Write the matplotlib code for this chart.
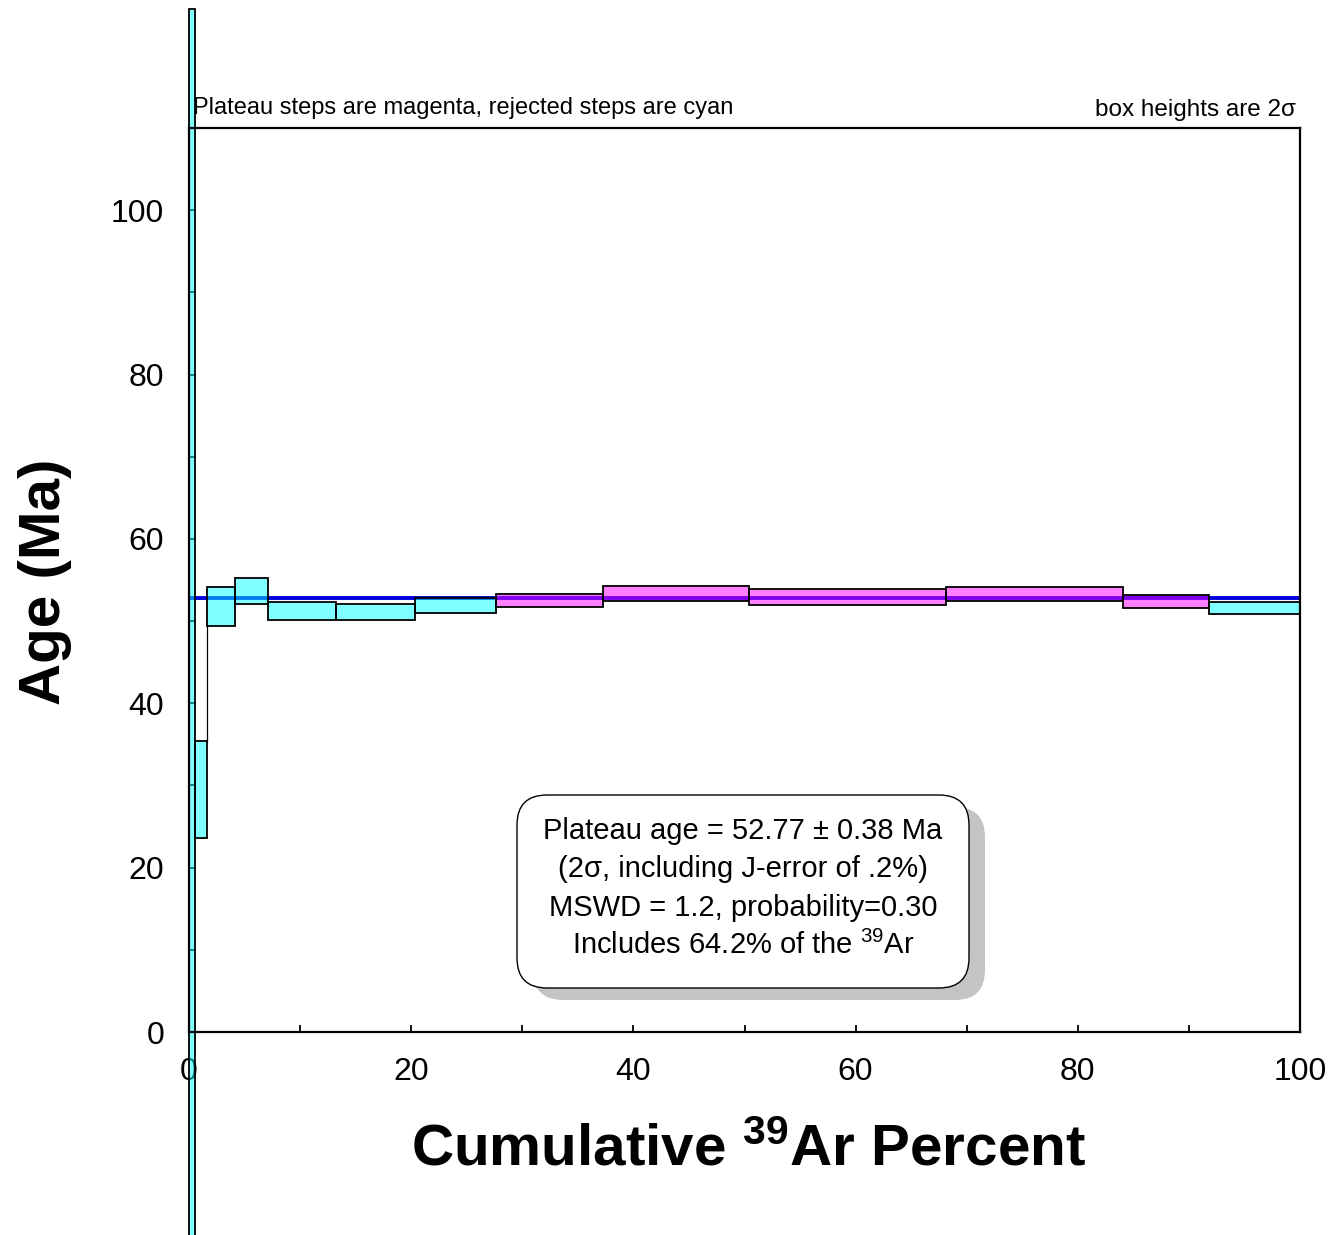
import matplotlib
matplotlib.use('Agg')
import matplotlib.pyplot as plt
from matplotlib.patches import Rectangle, FancyBboxPatch
from matplotlib.ticker import MultipleLocator

plt.rcParams['font.family'] = ['Liberation Sans', 'DejaVu Sans']
plt.rcParams['mathtext.fontset'] = 'custom'
plt.rcParams['mathtext.rm'] = 'Liberation Sans'
plt.rcParams['mathtext.bf'] = 'Liberation Sans:bold'
plt.rcParams['mathtext.it'] = 'Liberation Sans:italic'

# Step boundaries (cumulative 39Ar %), step ages and 2-sigma errors (Ma)
cum_edges = [0, 0.5, 1.65, 4.14, 7.14, 13.23, 20.34, 27.63, 37.24, 50.43, 68.14, 84.10, 91.78, 100]
ages = [47.0, 29.5, 51.8, 53.7, 51.2, 51.1, 51.85, 52.5, 53.4, 52.95, 53.3, 52.4, 51.6]
errs = [77.5, 5.9, 2.4, 1.6, 1.1, 1.0, 0.9, 0.8, 0.9, 0.95, 0.8, 0.8, 0.75]
in_plateau = [False] * 7 + [True] * 5 + [False]

plateau_age = 52.77
plateau_err = 0.38
mswd = 1.2
prob = 0.30
plateau_pct = 64.2

fig = plt.figure(figsize=(13.32, 12.35), dpi=100)
ax = fig.add_axes([189 / 1332, (1235 - 1032) / 1235, 1111 / 1332, 904 / 1235])
ax.set_xlim(0, 100)
ax.set_ylim(0, 110)

# plateau age line sits under the translucent step boxes
ax.plot([0, 100], [plateau_age, plateau_age], color='#0000dd', lw=2.8, zorder=1)

for i, (age, err) in enumerate(zip(ages, errs)):
    x0, x1 = cum_edges[i], cum_edges[i + 1]
    color = 'magenta' if in_plateau[i] else 'cyan'
    ax.add_patch(Rectangle((x0, age - err), x1 - x0, 2 * err, facecolor=color,
                           alpha=0.5, edgecolor='none', zorder=2, clip_on=False))
    ax.add_patch(Rectangle((x0, age - err), x1 - x0, 2 * err, facecolor='none',
                           edgecolor='black', lw=1.3, zorder=3, clip_on=False))
    # thin connector between non-overlapping neighbouring steps
    if i > 0:
        prev_lo = ages[i - 1] - errs[i - 1]
        prev_hi = ages[i - 1] + errs[i - 1]
        lo, hi = age - err, age + err
        if hi < prev_lo:
            ax.plot([x0, x0], [hi, prev_lo], color='black', lw=0.9, zorder=3)
        elif lo > prev_hi:
            ax.plot([x0, x0], [prev_hi, lo], color='black', lw=0.9, zorder=3)

ax.xaxis.set_major_locator(MultipleLocator(20))
ax.xaxis.set_minor_locator(MultipleLocator(10))
ax.yaxis.set_major_locator(MultipleLocator(20))
ax.yaxis.set_minor_locator(MultipleLocator(10))
ax.tick_params(which='both', direction='in', length=5, width=1.3)
ax.tick_params(which='major', labelsize=23)
ax.tick_params(axis='x', pad=18)
ax.tick_params(axis='y', pad=18)
for side in ax.spines.values():
    side.set_linewidth(1.6)

fig.text(45 / 1332, 1 - 582 / 1235, 'Age (Ma)', rotation=90, fontsize=42,
         fontweight='bold', ha='center', va='center')
fig.text(748 / 1332, 1 - 1165 / 1235, r'Cumulative $^{\mathbf{39}}$Ar Percent',
         fontsize=42, fontweight='bold', ha='center', va='baseline')

fig.text(193 / 1332, 1 - 114 / 1235, 'Plateau steps are magenta, rejected steps are cyan',
         fontsize=17, ha='left', va='baseline')
fig.text(1296 / 1332, 1 - 116 / 1235, 'box heights are 2\u03c3',
         fontsize=17.5, ha='right', va='baseline')

# result box with drop shadow, placed in inches
bx, by, bw, bh = 5.17, 2.47, 4.52, 1.93
shadow = FancyBboxPatch((bx + 0.16, by - 0.12), bw, bh,
                        boxstyle='round,pad=0,rounding_size=0.3',
                        transform=fig.dpi_scale_trans, facecolor='#c4c4c4',
                        edgecolor='none', zorder=5)
box = FancyBboxPatch((bx, by), bw, bh, boxstyle='round,pad=0,rounding_size=0.3',
                     transform=fig.dpi_scale_trans, facecolor='white',
                     edgecolor='black', lw=1.0, zorder=6)
fig.patches.extend([shadow, box])

lines = [
    f'Plateau age = {plateau_age:.2f} \u00b1 {plateau_err:.2f} Ma',
    '(2\u03c3, including J-error of .2%)',
    f'MSWD = {mswd:.1f}, probability={prob:.2f}',
    f'Includes {plateau_pct:.1f}% of the $^{{39}}$Ar',
]
for k, line in enumerate(lines):
    fig.text(743 / 1332, 1 - (831 + 38.3 * k) / 1235, line, fontsize=21,
             ha='center', va='center', zorder=7)

fig.savefig('out.png', dpi=100)
